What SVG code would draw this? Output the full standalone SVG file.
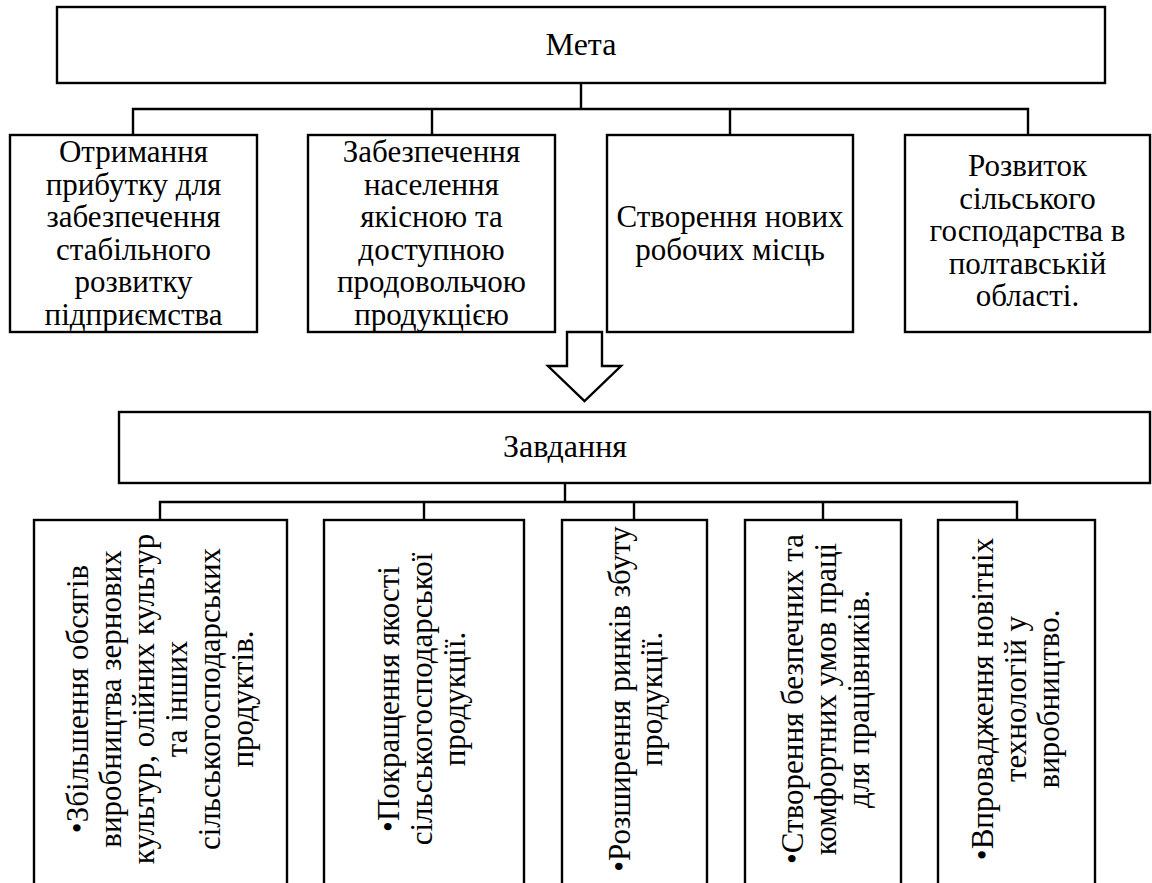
<svg xmlns="http://www.w3.org/2000/svg" width="1152" height="883" viewBox="0 0 1152 883">
<style>
.box{fill:#fff;stroke:#000;stroke-width:2.4}
.ln{fill:none;stroke:#000;stroke-width:2.4}
.t{font-family:"Liberation Serif","Times New Roman",serif;font-size:31px;fill:#000;text-anchor:middle}
.h{font-size:32px}
</style>
<rect width="1152" height="883" fill="#fff"/>
<g id="connectors">
<path class="ln" d="M581,83V109M133,135V109H1028V135M432,109V135M730,109V135"/>
<path class="ln" d="M565,483V502M160,520V502H1017V520M424,502V520M634,502V520M823,502V520"/>
<polygon class="box" points="567,332 602,332 602,366 621,366 584.5,401 548,366 567,366"/>
</g>
<g id="meta">
<rect class="box" x="57" y="7" width="1048" height="76"/>
<text class="t h" x="581" y="55">Мета</text>
</g>
<g id="goal1">
<rect class="box" x="10" y="135" width="247" height="197"/>
<text class="t"><tspan x="133.5" y="162">Отримання</tspan><tspan x="133.5" dy="32.6">прибутку для</tspan><tspan x="133.5" dy="32.6">забезпечення</tspan><tspan x="133.5" dy="32.6">стабільного</tspan><tspan x="133.5" dy="32.6">розвитку</tspan><tspan x="133.5" dy="32.6">підприємства</tspan></text>
</g>
<g id="goal2">
<rect class="box" x="308" y="135" width="247" height="197"/>
<text class="t"><tspan x="431.5" y="162">Забезпечення</tspan><tspan x="431.5" dy="32.6">населення</tspan><tspan x="431.5" dy="32.6">якісною та</tspan><tspan x="431.5" dy="32.6">доступною</tspan><tspan x="431.5" dy="32.6">продовольчою</tspan><tspan x="431.5" dy="32.6">продукцією</tspan></text>
</g>
<g id="goal3">
<rect class="box" x="607" y="135" width="246" height="197"/>
<text class="t"><tspan x="730" y="227">Створення нових</tspan><tspan x="730" dy="32.6">робочих місць</tspan></text>
</g>
<g id="goal4">
<rect class="box" x="905" y="135" width="245" height="197"/>
<text class="t"><tspan x="1027.5" y="176">Розвиток</tspan><tspan x="1027.5" dy="32.6">сільського</tspan><tspan x="1027.5" dy="32.6">господарства в</tspan><tspan x="1027.5" dy="32.6">полтавській</tspan><tspan x="1027.5" dy="32.6">області.</tspan></text>
</g>
<g id="tasks">
<rect class="box" x="119" y="412" width="1031" height="71"/>
<text class="t h" x="565" y="457">Завдання</text>
</g>
<g id="task1">
<rect class="box" x="34" y="520" width="253" height="400"/>
<text class="t" transform="translate(88,699) rotate(-90)"><tspan x="0" y="0">•Збільшення обсягів</tspan><tspan x="0" dy="33">виробництва зернових</tspan><tspan x="0" dy="33">культур, олійних культур</tspan><tspan x="0" dy="33">та інших</tspan><tspan x="0" dy="33">сільськогосподарських</tspan><tspan x="0" dy="33">продуктів.</tspan></text>
</g>
<g id="task2">
<rect class="box" x="324" y="520" width="200" height="400"/>
<text class="t" transform="translate(399,699) rotate(-90)"><tspan x="0" y="0">•Покращення якості</tspan><tspan x="0" dy="33">сільськогосподарської</tspan><tspan x="0" dy="33">продукції.</tspan></text>
</g>
<g id="task3">
<rect class="box" x="562" y="520" width="145" height="400"/>
<text class="t" transform="translate(630,699) rotate(-90)"><tspan x="0" y="0">•Розширення ринків збуту</tspan><tspan x="0" dy="32">продукції.</tspan></text>
</g>
<g id="task4">
<rect class="box" x="745" y="520" width="156" height="400"/>
<text class="t" transform="translate(803,699) rotate(-90)"><tspan x="0" y="0">•Створення безпечних та</tspan><tspan x="0" dy="33">комфортних умов праці</tspan><tspan x="0" dy="33">для працівників.</tspan></text>
</g>
<g id="task5">
<rect class="box" x="938" y="520" width="157" height="400"/>
<text class="t" transform="translate(993,699) rotate(-90)"><tspan x="0" y="0">•Впровадження новітніх</tspan><tspan x="0" dy="33">технологій у</tspan><tspan x="0" dy="33">виробництво.</tspan></text>
</g>
</svg>
